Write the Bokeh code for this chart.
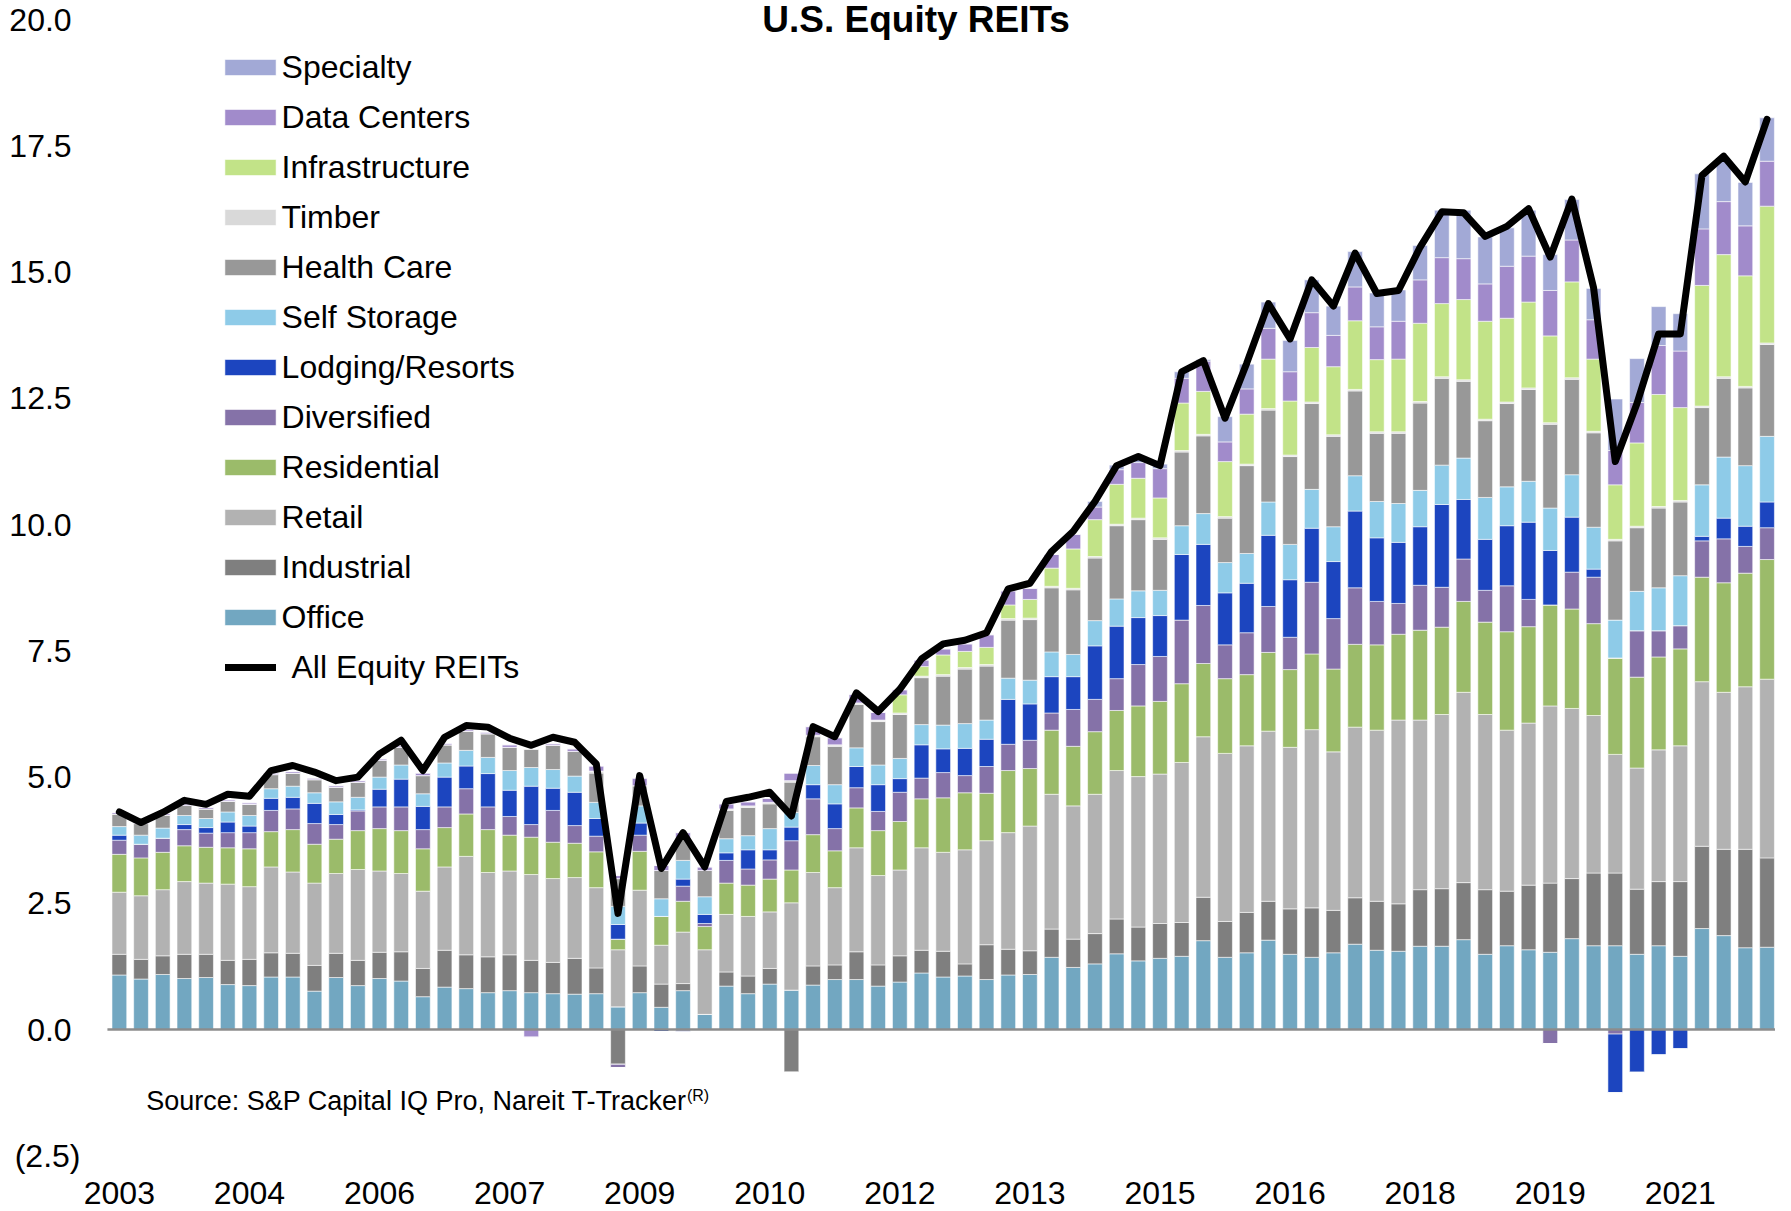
from bokeh.plotting import figure
from bokeh.models import (ColumnDataSource, Range1d, FixedTicker, Legend, LegendItem,
                          Label, NumeralTickFormatter)
from bokeh.core.properties import value
from bokeh.embed import file_html
from bokeh.resources import INLINE

# ---------------- data (quarterly, 2003Q1 .. 2022Q1) ----------------
quarters = [f"{y}Q{q}" for y in range(2003, 2023) for q in range(1, 5)][:77]
tick_positions = [0, 6, 12, 18, 24, 30, 36, 42, 48, 54, 60, 66, 72]
tick_labels = ["2003", "2004", "2006", "2007", "2009", "2010", "2012",
               "2013", "2015", "2016", "2018", "2019", "2021"]
y_ticks = [-2.5, 0, 2.5, 5, 7.5, 10, 12.5, 15, 17.5, 20]

office = [1.08,1.00,1.09,1.01,1.03,0.89,0.87,1.04,1.04,0.76, 1.03,0.87,1.01,0.96,0.65,0.84,0.81,0.73,0.77,0.73,
          0.71,0.70,0.71,0.45,0.73,0.44,0.77,0.30,0.86,0.71, 0.90,0.78,0.88,0.99,0.99,0.86,0.94,1.12,1.04,1.06,
          0.99,1.08,1.09,1.43,1.23,1.30,1.50,1.36,1.41,1.45, 1.76,1.43,1.52,1.77,1.49,1.43,1.52,1.69,1.57,1.55,
          1.65,1.65,1.78,1.49,1.66,1.58,1.53,1.80,1.66,1.66, 1.49,1.66,1.45,2.00,1.86,1.62,1.63]
industrial = [0.41,0.39,0.37,0.48,0.46,0.48,0.52,0.48,0.47,0.51, 0.48,0.50,0.52,0.58,0.56,0.73,0.67,0.71,0.71,0.64,
              0.62,0.71,0.51,-0.69,0.53,0.46,0.14,0.00,0.28,0.35, 0.31,-0.85,0.38,0.29,0.55,0.42,0.52,0.45,0.51,0.24,
              0.69,0.51,0.47,0.56,0.56,0.60,0.69,0.67,0.69,0.67, 0.86,0.71,0.80,0.77,0.90,0.98,0.84,0.92,0.97,0.94,
              1.12,1.14,1.13,1.28,1.08,1.28,1.37,1.19,1.44,1.44, 1.29,1.27,1.48,1.63,1.71,1.95,1.77]
retail = [1.23,1.26,1.31,1.44,1.41,1.51,1.44,1.70,1.61,1.63, 1.58,1.80,1.61,1.55,1.53,1.65,1.95,1.67,1.66,1.70,
          1.66,1.60,1.59,1.13,1.50,0.77,1.02,1.28,1.14,1.18, 1.12,1.73,1.85,1.53,2.06,1.77,1.70,2.03,1.96,2.26,
          2.06,2.31,2.47,2.67,2.64,2.76,2.94,2.98,2.96,3.17, 3.18,3.33,3.30,3.37,3.20,3.53,3.14,3.38,3.39,3.64,
          3.36,3.45,3.77,3.47,3.19,3.21,3.51,3.37,3.12,2.35, 2.40,2.61,2.69,3.26,3.11,3.22,3.54]
residential = [0.75,0.75,0.74,0.71,0.71,0.72,0.75,0.70,0.84,0.77, 0.68,0.77,0.84,0.85,0.84,0.78,0.84,0.85,0.71,0.74,
               0.72,0.68,0.71,0.21,0.77,0.57,0.61,0.46,0.62,0.62, 0.65,0.65,0.75,0.73,0.79,0.89,0.96,0.97,1.08,1.13,
               0.94,1.23,1.14,1.27,1.18,1.24,1.19,1.40,1.44,1.56, 1.45,1.48,1.41,1.56,1.54,1.50,1.64,1.64,1.69,1.70,
               1.78,1.73,1.80,1.83,1.95,1.91,2.00,1.97,1.82,1.91, 1.80,1.84,1.92,2.07,2.17,2.25,2.37]
diversified = [0.28,0.27,0.28,0.32,0.28,0.30,0.32,0.42,0.41,0.41, 0.29,0.39,0.43,0.47,0.38,0.41,0.50,0.45,0.37,0.25,
               0.63,0.35,0.31,-0.07,0.32,0.00,0.30,0.06,0.45,0.32, 0.38,0.58,0.71,0.44,0.40,0.38,0.58,0.41,0.50,0.34,
               0.53,0.52,0.56,0.34,0.73,0.64,0.63,0.82,0.89,1.26, 1.15,0.67,0.83,0.91,0.64,1.42,1.00,1.12,0.86,0.61,
               0.89,0.79,0.84,0.63,0.91,0.54,-0.28,0.73,0.92,-0.09, 0.92,0.52,0.46,0.72,0.87,0.53,0.63]
lodging = [0.10,0.00,0.00,0.10,0.11,0.21,0.13,0.24,0.23,0.40, 0.20,0.02,0.35,0.55,0.46,0.59,0.45,0.66,0.52,0.76,
           0.44,0.66,0.35,0.29,0.24,-0.04,0.14,0.18,0.15,0.38, 0.20,0.27,0.28,0.49,0.42,0.53,0.27,0.66,0.47,0.54,
           0.54,0.89,0.72,0.72,0.65,1.06,1.04,0.93,0.81,1.30, 1.21,1.03,0.98,1.41,1.14,1.07,1.13,1.52,1.26,1.21,
           1.16,1.64,1.18,1.01,1.19,1.53,1.08,1.09,0.16,-1.17, -0.85,-0.51,-0.39,0.09,0.41,0.40,0.51]
self_storage = [0.17,0.18,0.20,0.18,0.18,0.20,0.21,0.19,0.22,0.21, 0.25,0.25,0.24,0.28,0.25,0.28,0.31,0.32,0.39,0.37,
                0.37,0.32,0.32,0.36,0.34,0.35,0.37,0.35,0.28,0.28, 0.42,0.29,0.38,0.38,0.37,0.39,0.40,0.40,0.47,0.49,
                0.38,0.42,0.47,0.49,0.44,0.50,0.54,0.53,0.50,0.57, 0.61,0.60,0.59,0.66,0.70,0.77,0.69,0.70,0.72,0.77,
                0.72,0.78,0.82,0.83,0.77,0.81,0.84,0.84,0.83,0.75, 0.78,0.85,0.99,1.02,1.21,1.20,1.30]
health_care = [0.25,0.23,0.26,0.20,0.19,0.21,0.22,0.28,0.26,0.26, 0.29,0.30,0.33,0.35,0.36,0.36,0.38,0.47,0.46,0.37,
               0.48,0.49,0.58,0.55,0.40,0.56,0.45,0.52,0.56,0.56, 0.49,0.60,0.57,0.76,0.86,0.86,0.87,0.93,0.97,1.08,
               1.07,1.15,1.20,1.27,1.28,1.24,1.45,1.41,1.01,1.46, 1.54,0.88,1.74,1.82,1.74,1.70,1.79,1.68,1.35,1.39,
               1.73,1.72,1.52,1.52,1.65,1.82,1.66,1.89,1.87,1.57, 1.26,1.58,1.46,1.53,1.56,1.54,1.82]
timber = [0.00]*22 + [0.04, 0.00, 0.00, 0.00, 0.00, 0.00] + [0.03]*49
infrastructure = [0.00]*36 + [0.36,0.19,0.39,0.32,
                  0.34,0.27,0.37,0.36,0.78,0.73,0.79,0.79,0.79,0.94, 0.85,1.09,0.99,0.98,1.07,1.08,1.35,1.36,1.43,1.44,
                  1.55,1.45,1.59,1.94,1.66,1.70,1.72,1.90,1.43,1.08, 1.65,2.22,1.84,2.39,2.42,2.19,2.71]
data_centers = [0.03,0.03,0.03,0.03,0.03,0.03,0.03,0.03,0.03,0.03, 0.03,0.03,0.03,0.03,0.05,0.03,0.03,0.03,0.05,-0.15,
                0.03,0.05,0.10,0.06,0.15,0.10,0.10,0.07,0.10,0.08, 0.08,0.15,0.17,0.14,0.17,0.15,0.10,0.13,0.12,0.15,
                0.25,0.28,0.22,0.27,0.29,0.25,0.29,0.31,0.58,0.49, 0.60,0.39,0.50,0.61,0.58,0.69,0.62,0.67,0.65,0.75,
                0.86,0.91,0.81,0.74,1.03,0.91,0.90,0.83,0.78,0.68, 0.80,0.97,1.12,1.12,1.05,0.99,0.89]
specialty = [0.00]*26 + [-0.04] + [0.00]*18 + [0.11,0.09,0.06,0.09,0.13,
             0.03,0.50,0.49,0.52,0.62,0.65,0.58,0.70,0.67,0.62, 0.68,0.94,0.96,0.93,0.76,0.91,0.71,0.80,0.62,1.02,
             0.87,0.77,0.74,1.09,0.80,0.86,0.86]
all_equity_reits = [4.31,4.10,4.30,4.54,4.46,4.66,4.62,5.13,5.23,5.10, 4.93,5.00,5.46,5.73,5.13,5.79,6.02,5.99,5.77,5.63,
                    5.79,5.69,5.26,2.30,5.03,3.19,3.90,3.22,4.52,4.60, 4.70,4.23,6.00,5.80,6.67,6.30,6.74,7.34,7.64,7.71,
                    7.86,8.73,8.84,9.47,9.87,10.46,11.17,11.35,11.17,13.03, 13.25,12.11,13.20,14.38,13.68,14.85,14.33,15.38,14.58,14.64,
                    15.50,16.20,16.18,15.71,15.91,16.26,15.30,16.45,14.69,11.25, 12.40,13.78,13.78,16.92,17.30,16.79,18.03]

series_names = ["Office", "Industrial", "Retail", "Residential", "Diversified", "Lodging/Resorts",
                "Self Storage", "Health Care", "Timber", "Infrastructure", "Data Centers", "Specialty"]
series_values = [office, industrial, retail, residential, diversified, lodging,
                 self_storage, health_care, timber, infrastructure, data_centers, specialty]
series_colors = ["#72A7C1", "#7F7F7F", "#B2B2B2", "#9BBB6A", "#8572A8", "#1C45BF",
                 "#8ECBE8", "#989898", "#D9D9D9", "#C2E388", "#A18BCB", "#A2A9D6"]

# ---------------- source: positive and negative parts stack separately ----------------
xs = list(range(len(quarters)))
data = {"x": xs, "quarter": quarters, "all": all_equity_reits}
pos_keys, neg_keys = [], []
for i, vals in enumerate(series_values):
    pk, nk = f"pos{i}", f"neg{i}"
    data[pk] = [v if v > 0 else 0.0 for v in vals]
    data[nk] = [v if v < 0 else 0.0 for v in vals]
    pos_keys.append(pk)
    neg_keys.append(nk)
src = ColumnDataSource(data)
tick_src = ColumnDataSource({"x": tick_positions, "label": tick_labels,
                             "y": [-3.24] * len(tick_positions)})

FONT = "Liberation Sans"
X_START, X_END = -1.70, 76.39

p = figure(width=1769, height=1211, x_range=Range1d(X_START, X_END), y_range=Range1d(-3.605, 20.384),
           output_backend="svg", toolbar_location=None, margin=(0, 0, 0, 6),
           min_border_left=0, min_border_right=0, min_border_top=0, min_border_bottom=0)
p.outline_line_color = None
p.xgrid.visible = False
p.ygrid.visible = False
p.xaxis.visible = False
p.background_fill_color = "white"

pos_r = p.vbar_stack(pos_keys, x="x", width=0.68, source=src, fill_color=series_colors,
                     line_color="white", line_width=0.8, line_alpha=0.7)
neg_r = p.vbar_stack(neg_keys, x="x", width=0.68, source=src, fill_color=series_colors,
                     line_color="white", line_width=0.8, line_alpha=0.7)

# zero baseline (category axis line) spanning the bar area
p.segment(x0=[xs[0] - 0.55], y0=[0], x1=[X_END], y1=[0], line_color="#8C8C8C", line_width=2.5)

line_r = p.line("x", "all", source=src, line_color="black", line_width=7,
                line_join="round", line_cap="round")

# y axis: accounting style, positives padded like a closing parenthesis
p.yaxis.ticker = FixedTicker(ticks=y_ticks)
p.yaxis.formatter = NumeralTickFormatter(format="(0.0)")
p.yaxis.major_label_overrides = {t: (f"({abs(t):.1f})" if t < 0 else f"{t:.1f}\u2008") for t in y_ticks}
ax = p.yaxis[0]
ax.axis_line_color = None
ax.major_tick_line_color = None
ax.minor_tick_line_color = None
ax.major_tick_out = 0
ax.major_tick_in = 0
ax.major_label_text_font = FONT
ax.major_label_text_font_size = "32px"
ax.major_label_text_color = "black"
ax.major_label_standoff = 2

# year labels along the bottom (quarter index positions)
p.text(x="x", y="y", text="label", source=tick_src, text_align="center", text_baseline="middle",
       text_font=value(FONT), text_font_size="32px", text_color="black")

# legends
items = [LegendItem(label=series_names[i], renderers=[pos_r[i]]) for i in range(11, -1, -1)]
bar_legend = Legend(items=items, location=(135.6, 575), orientation="vertical",
                    glyph_width=64, glyph_height=20, label_height=38, spacing=12,
                    padding=0, margin=0, label_standoff=0,
                    border_line_color=None, background_fill_alpha=0,
                    label_text_font=FONT, label_text_font_size="32px", label_text_color="black")
p.add_layout(bar_legend)
line_legend = Legend(items=[LegendItem(label="All Equity REITs", renderers=[line_r])],
                     location=(142.5, 525), orientation="vertical",
                     glyph_width=51, glyph_height=16, label_height=38, spacing=12,
                     padding=0, margin=0, label_standoff=16,
                     border_line_color=None, background_fill_alpha=0,
                     label_text_font=FONT, label_text_font_size="32px", label_text_color="black")
p.add_layout(line_legend)

title = Label(x=36.75, y=20.0, text="U.S. Equity REITs", text_align="center", text_baseline="middle",
              text_font=FONT, text_font_size="37px", text_font_style="bold", text_color="black")
p.add_layout(title)

source_lbl = Label(x=1.24, y=-1.42, text="Source: S&P Capital IQ Pro, Nareit T-Tracker",
                   text_align="left", text_baseline="middle",
                   text_font=FONT, text_font_size="27px", text_color="black")
p.add_layout(source_lbl)
sup_lbl = Label(x=26.18, y=-1.31, text="(R)", text_align="left", text_baseline="middle",
                text_font=FONT, text_font_size="16px", text_color="black")
p.add_layout(sup_lbl)

open("out.html", "w").write(file_html(p, INLINE))
